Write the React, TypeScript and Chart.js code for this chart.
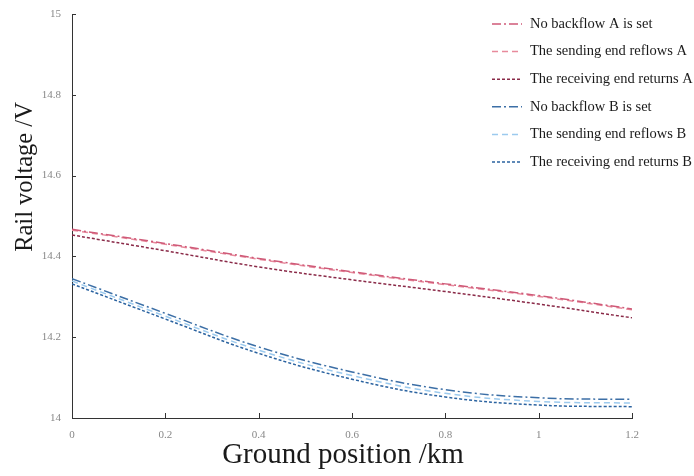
import React, { useEffect, useRef } from "react";
import { Chart, registerables } from "chart.js";

Chart.register(...registerables);

const xKm = [0, 0.2, 0.4, 0.6, 0.8, 1.0, 1.2];
const noBackflowA = [14.467, 14.432, 14.395, 14.362, 14.332, 14.303, 14.27];
const sendingA = [14.465, 14.43, 14.393, 14.36, 14.33, 14.301, 14.268];
const receivingA = [14.453, 14.414, 14.374, 14.342, 14.313, 14.282, 14.248];
const noBackflowB = [14.345, 14.259, 14.176, 14.114, 14.07, 14.05, 14.046];
const sendingB = [14.339, 14.252, 14.168, 14.105, 14.061, 14.041, 14.037];
const receivingB = [14.332, 14.245, 14.16, 14.096, 14.052, 14.032, 14.028];

const seriesLabels = [
  "No backflow A is set",
  "The sending end reflows A",
  "The receiving end returns A",
  "No backflow B is set",
  "The sending end reflows B",
  "The receiving end returns B",
];
const seriesValues = [noBackflowA, sendingA, receivingA, noBackflowB, sendingB, receivingB];
const seriesColors = ["#cf5a78", "#e88a9c", "#8a2a48", "#3c6fa6", "#9ccaee", "#2b63a0"];
const seriesDashes = [
  [9, 3, 2, 3],
  [6, 4],
  [3, 2],
  [9, 3, 2, 3],
  [6, 4],
  [3, 2],
];

const xTitle = "Ground position /km";
const yTitle = "Rail voltage /V";
const SERIF = "'Liberation Serif', 'Times New Roman', serif";

const fmt = (v: number | string) => String(Number(Number(v).toFixed(1)));

const decorPlugin = {
  id: "decor",
  afterDraw(chart: any) {
    const ctx = chart.ctx;
    const area = chart.chartArea;
    const xs = chart.scales.x;
    const ys = chart.scales.y;
    ctx.save();
    ctx.strokeStyle = "#333";
    ctx.lineWidth = 1;
    ctx.setLineDash([]);
    ctx.beginPath();
    ys.ticks.forEach((t: any) => {
      const py = Math.round(ys.getPixelForValue(t.value)) + 0.5;
      ctx.moveTo(area.left, py);
      ctx.lineTo(area.left + 4, py);
    });
    xs.ticks.forEach((t: any) => {
      const px = Math.round(xs.getPixelForValue(t.value)) + 0.5;
      ctx.moveTo(px, area.bottom);
      ctx.lineTo(px, area.bottom - 5);
    });
    ctx.stroke();

    ctx.fillStyle = "#1a1a1a";
    ctx.font = `29px ${SERIF}`;
    ctx.textAlign = "center";
    ctx.textBaseline = "middle";
    ctx.fillText(xTitle, 343, 455);
    ctx.save();
    ctx.translate(26, 177);
    ctx.rotate(-Math.PI / 2);
    ctx.font = `24.5px ${SERIF}`;
    ctx.fillText(yTitle, 0, 0);
    ctx.restore();

    const ds = chart.data.datasets;
    ctx.font = `14.5px ${SERIF}`;
    ctx.textAlign = "left";
    ctx.textBaseline = "middle";
    ds.forEach((d: any, i: number) => {
      const cy = 24 + i * 27.6;
      ctx.strokeStyle = d.borderColor;
      ctx.lineWidth = 1.5;
      ctx.setLineDash(d.borderDash);
      ctx.beginPath();
      ctx.moveTo(492, cy);
      ctx.lineTo(522, cy);
      ctx.stroke();
      ctx.setLineDash([]);
      ctx.fillStyle = "#1a1a1a";
      ctx.fillText(d.label, 530, cy);
    });
    ctx.restore();
  },
};

export default function App() {
  const ref = useRef<HTMLCanvasElement>(null);
  useEffect(() => {
    if (!ref.current) return;
    const datasets = seriesLabels.map((label, i) => ({
      label,
      data: xKm.map((x, j) => ({ x, y: seriesValues[i][j] })),
      borderColor: seriesColors[i],
      backgroundColor: seriesColors[i],
      borderDash: seriesDashes[i],
      borderWidth: 1.5,
      pointRadius: 0,
      fill: false,
      tension: 0.4,
    }));
    const chart = new Chart(ref.current, {
      type: "line",
      data: { datasets },
      options: {
        animation: false,
        responsive: true,
        maintainAspectRatio: false,
        layout: { padding: { top: 14, right: 62, left: 0, bottom: 0 } },
        plugins: { legend: { display: false }, tooltip: { enabled: false } },
        scales: {
          x: {
            type: "linear",
            min: 0,
            max: 1.2,
            afterFit: (s: any) => {
              s.height = 58;
              s.paddingLeft = 0;
              s.paddingRight = 0;
            },
            ticks: {
              stepSize: 0.2,
              padding: 11,
              color: "#888",
              font: { family: SERIF, size: 11 },
              maxRotation: 0,
              callback: (v: any) => fmt(v),
            },
            grid: { drawOnChartArea: false, drawTicks: false },
            border: { display: true, color: "#333", width: 1 },
          },
          y: {
            type: "linear",
            min: 14,
            max: 15,
            afterFit: (s: any) => {
              s.width = 72;
              s.paddingTop = 0;
              s.paddingBottom = 0;
            },
            ticks: {
              stepSize: 0.2,
              padding: 11,
              color: "#888",
              font: { family: SERIF, size: 11 },
              callback: (v: any) => fmt(v),
            },
            grid: { drawOnChartArea: false, drawTicks: false },
            border: { display: true, color: "#333", width: 1 },
          },
        },
      },
      plugins: [decorPlugin],
    });
    return () => chart.destroy();
  }, []);
  return (
    <div style={{ position: "fixed", left: 0, top: 0, width: 694, height: 476, background: "#fff" }}>
      <canvas ref={ref} />
    </div>
  );
}
